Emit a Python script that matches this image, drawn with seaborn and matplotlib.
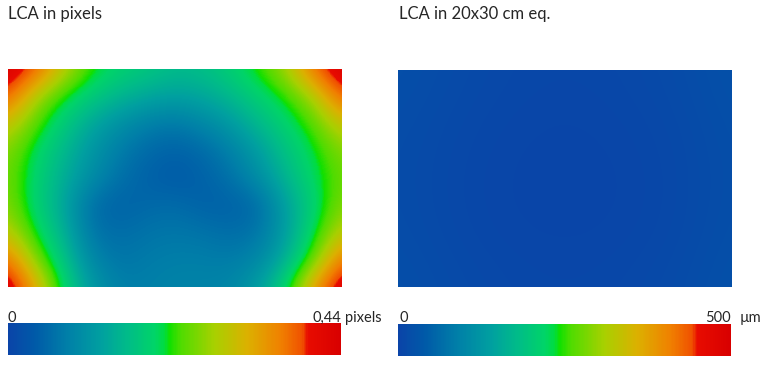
import matplotlib
matplotlib.use("Agg")
import matplotlib.pyplot as plt
import numpy as np
import pandas as pd
import seaborn as sns
from matplotlib.colors import LinearSegmentedColormap

# ---- data ----
title_left = "LCA in pixels"
title_right = "LCA in 20x30 cm eq."
left_min_label, left_max_label, left_unit = "0", "0,44", "pixels"
right_min_label, right_max_label, right_unit = "0", "500", "µm"
left_vmax = 0.44
right_vmax = 500

# LCA in pixels, 9 rows (top->bottom) x 13 columns (left->right), edge to edge
lca_pixels = [
    [0.440, 0.387, 0.290, 0.220, 0.189, 0.176, 0.158, 0.163, 0.185, 0.220, 0.270, 0.378, 0.440],
    [0.387, 0.273, 0.211, 0.176, 0.150, 0.132, 0.123, 0.132, 0.154, 0.185, 0.216, 0.273, 0.387],
    [0.299, 0.229, 0.176, 0.132, 0.101, 0.079, 0.070, 0.088, 0.114, 0.154, 0.189, 0.229, 0.299],
    [0.255, 0.198, 0.154, 0.110, 0.075, 0.053, 0.044, 0.053, 0.079, 0.119, 0.167, 0.207, 0.255],
    [0.246, 0.189, 0.141, 0.097, 0.062, 0.044, 0.035, 0.044, 0.062, 0.097, 0.150, 0.198, 0.242],
    [0.255, 0.185, 0.132, 0.057, 0.044, 0.053, 0.057, 0.044, 0.044, 0.053, 0.123, 0.185, 0.255],
    [0.290, 0.207, 0.145, 0.066, 0.057, 0.066, 0.070, 0.066, 0.057, 0.066, 0.119, 0.202, 0.290],
    [0.374, 0.250, 0.167, 0.088, 0.066, 0.075, 0.079, 0.079, 0.075, 0.088, 0.141, 0.235, 0.374],
    [0.440, 0.330, 0.194, 0.114, 0.079, 0.079, 0.084, 0.084, 0.088, 0.119, 0.194, 0.343, 0.440],
]

# LCA in µm on a 20x30 cm print, 5 rows x 7 columns
lca_um = [
    [22, 14, 8, 6, 8, 14, 26],
    [18, 10, 5, 3, 5, 10, 22],
    [16, 8, 3, 2, 3, 8, 20],
    [18, 9, 4, 3, 4, 9, 22],
    [22, 14, 8, 6, 8, 14, 26],
]

# ---- colormap ----
cmap_stops = [
    (0.00, "#0a44a8"), (0.08, "#005aa8"), (0.18, "#0080a8"), (0.28, "#00a0a0"),
    (0.36, "#00bc88"), (0.44, "#00d468"), (0.47, "#00dc40"), (0.485, "#10e000"),
    (0.52, "#50dc00"), (0.62, "#a8d000"), (0.72, "#dcb000"), (0.82, "#f08000"),
    (0.885, "#f05000"), (0.90, "#e80c00"), (1.00, "#d80000"),
]
cmap = LinearSegmentedColormap.from_list("lca", cmap_stops)

sns.set_theme(style="white")
plt.rcParams["font.family"] = ["Lato", "DejaVu Sans"]

fig = plt.figure(figsize=(7.7, 3.66), dpi=100)
W, H = 770.0, 366.0


def box(x0, y0, x1, y1):
    return [x0 / W, 1 - y1 / H, (x1 - x0) / W, (y1 - y0) / H]


def draw_panel(data, vmax, img_box, cb_box):
    df = pd.DataFrame(data)
    nr, nc = df.shape
    ax = fig.add_axes(box(*img_box))
    # seaborn heatmap of the grid, then a smoothed rendering of the same grid on top
    sns.heatmap(df, ax=ax, cmap=cmap, vmin=0, vmax=vmax, cbar=False,
                xticklabels=False, yticklabels=False)
    im = ax.imshow(df.to_numpy(), cmap=cmap, vmin=0, vmax=vmax,
                   extent=(0, nc, nr, 0), interpolation="bicubic",
                   interpolation_stage="data", aspect="auto", zorder=3)
    ax.set_xlim(0.5, nc - 0.5)
    ax.set_ylim(nr - 0.5, 0.5)
    ax.axis("off")
    cax = fig.add_axes(box(*cb_box))
    cb = fig.colorbar(im, cax=cax, orientation="horizontal")
    cb.set_ticks([])
    cb.outline.set_visible(False)
    return ax, cax


draw_panel(lca_pixels, left_vmax, (7.5, 69, 341.5, 287), (7.5, 323, 341.5, 355))
draw_panel(lca_um, right_vmax, (398, 70, 731, 287), (398, 324, 731, 356))

title_size = 12
label_size = 10.5
fig.text(8 / W, 1 - 18.5 / H, title_left, fontsize=title_size, va="baseline", ha="left")
fig.text(399 / W, 1 - 18.5 / H, title_right, fontsize=title_size, va="baseline", ha="left")

fig.text(8 / W, 1 - 322 / H, left_min_label, fontsize=label_size, va="baseline", ha="left")
fig.text(341.5 / W, 1 - 322 / H, left_max_label, fontsize=label_size, va="baseline", ha="right")
fig.text(345 / W, 1 - 322 / H, left_unit, fontsize=label_size, va="baseline", ha="left")

fig.text(399 / W, 1 - 322 / H, right_min_label, fontsize=label_size, va="baseline", ha="left")
fig.text(731 / W, 1 - 322 / H, right_max_label, fontsize=label_size, va="baseline", ha="right")
fig.text(740 / W, 1 - 322 / H, right_unit, fontsize=label_size, va="baseline", ha="left")

fig.savefig("out.png", dpi=100)
